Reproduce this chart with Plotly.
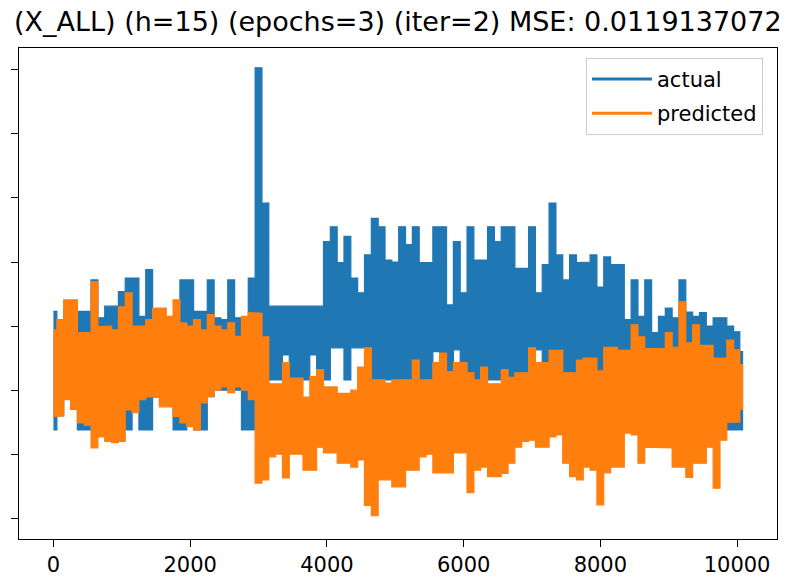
import plotly.graph_objects as go

# sample positions (time index) for the envelope readings
x_index = list(range(0, 10001, 100)) + [10080]

# envelope of the "actual" series (upper / lower extent in each 100-step slot)
actual_hi = [0.323, 0.300, 0.328, 0.323, 0.323, 0.323, 0.372, 0.313, 0.331, 0.331,
             0.354, 0.375, 0.375, 0.315, 0.388, 0.310, 0.310, 0.310, 0.310, 0.372,
             0.372, 0.323, 0.323, 0.372, 0.313, 0.310, 0.372, 0.313, 0.313, 0.375,
             0.703, 0.492, 0.331, 0.331, 0.331, 0.331, 0.331, 0.331, 0.331, 0.331,
             0.432, 0.455, 0.399, 0.440, 0.375, 0.352, 0.411, 0.468, 0.455, 0.403,
             0.400, 0.455, 0.427, 0.455, 0.399, 0.399, 0.455, 0.455, 0.333, 0.432,
             0.352, 0.455, 0.403, 0.403, 0.455, 0.432, 0.455, 0.455, 0.390, 0.390,
             0.455, 0.352, 0.396, 0.492, 0.411, 0.372, 0.411, 0.399, 0.400, 0.411,
             0.361, 0.408, 0.396, 0.396, 0.310, 0.372, 0.315, 0.372, 0.290, 0.315,
             0.328, 0.313, 0.372, 0.322, 0.315, 0.321, 0.300, 0.313, 0.313, 0.300,
             0.291, 0.260]
actual_lo = [0.138, 0.160, 0.190, 0.190, 0.138, 0.138, 0.160, 0.190, 0.190, 0.190,
             0.138, 0.138, 0.190, 0.138, 0.138, 0.189, 0.180, 0.175, 0.138, 0.138,
             0.160, 0.138, 0.138, 0.190, 0.200, 0.200, 0.200, 0.200, 0.138, 0.138,
             0.160, 0.138, 0.216, 0.216, 0.255, 0.216, 0.216, 0.216, 0.255, 0.216,
             0.216, 0.266, 0.266, 0.216, 0.266, 0.266, 0.266, 0.216, 0.216, 0.216,
             0.216, 0.216, 0.216, 0.216, 0.216, 0.216, 0.260, 0.216, 0.216, 0.263,
             0.216, 0.216, 0.216, 0.216, 0.216, 0.216, 0.216, 0.216, 0.216, 0.216,
             0.263, 0.263, 0.216, 0.216, 0.216, 0.216, 0.216, 0.216, 0.216, 0.216,
             0.216, 0.216, 0.216, 0.216, 0.138, 0.138, 0.138, 0.138, 0.138, 0.138,
             0.138, 0.138, 0.138, 0.138, 0.138, 0.138, 0.138, 0.138, 0.138, 0.138,
             0.138, 0.138]

# envelope of the "predicted" series
predicted_hi = [0.294, 0.310, 0.341, 0.341, 0.290, 0.290, 0.369, 0.299, 0.300, 0.294,
                0.330, 0.352, 0.300, 0.300, 0.310, 0.328, 0.328, 0.315, 0.341, 0.305,
                0.300, 0.310, 0.294, 0.318, 0.300, 0.294, 0.305, 0.284, 0.315, 0.321,
                0.320, 0.283, 0.210, 0.210, 0.243, 0.219, 0.219, 0.189, 0.221, 0.232,
                0.205, 0.205, 0.195, 0.195, 0.200, 0.236, 0.266, 0.216, 0.216, 0.211,
                0.216, 0.216, 0.216, 0.247, 0.216, 0.216, 0.243, 0.258, 0.229, 0.243,
                0.243, 0.227, 0.216, 0.236, 0.210, 0.210, 0.232, 0.220, 0.227, 0.227,
                0.266, 0.243, 0.243, 0.262, 0.262, 0.227, 0.227, 0.247, 0.250, 0.250,
                0.230, 0.267, 0.267, 0.262, 0.262, 0.302, 0.283, 0.265, 0.265, 0.265,
                0.290, 0.267, 0.338, 0.274, 0.302, 0.270, 0.270, 0.250, 0.250, 0.278,
                0.263, 0.240]
predicted_lo = [0.159, 0.160, 0.185, 0.170, 0.149, 0.145, 0.110, 0.127, 0.120, 0.118,
                0.120, 0.169, 0.165, 0.185, 0.190, 0.189, 0.174, 0.174, 0.159, 0.149,
                0.143, 0.138, 0.180, 0.190, 0.200, 0.205, 0.196, 0.205, 0.200, 0.185,
                0.055, 0.060, 0.096, 0.100, 0.063, 0.100, 0.100, 0.075, 0.075, 0.111,
                0.102, 0.102, 0.086, 0.086, 0.080, 0.091, 0.020, 0.004, 0.060, 0.060,
                0.049, 0.049, 0.075, 0.075, 0.096, 0.100, 0.071, 0.071, 0.071, 0.102,
                0.102, 0.040, 0.075, 0.080, 0.065, 0.065, 0.070, 0.086, 0.111, 0.120,
                0.122, 0.111, 0.111, 0.127, 0.130, 0.086, 0.065, 0.060, 0.080, 0.075,
                0.021, 0.071, 0.080, 0.080, 0.133, 0.130, 0.086, 0.111, 0.111, 0.110,
                0.110, 0.080, 0.080, 0.064, 0.086, 0.086, 0.111, 0.047, 0.122, 0.150,
                0.150, 0.170]

x_tick_vals = [0, 2000, 4000, 6000, 8000, 10000]
x_tick_text = ["0", "2000", "4000", "6000", "8000", "10000"]
y_tick_vals = [0.0, 0.1, 0.2, 0.3, 0.4, 0.5, 0.6, 0.7]

title_text = "(X_ALL) (h=15) (epochs=3) (iter=2) MSE: 0.0119137072"
series_names = ["actual", "predicted"]
colors = ["#1f77b4", "#ff7f0e"]


def band_polygon(xs, hi, lo):
    """Step-shaped band: each reading covers its slot around the sample position."""
    n = len(xs)
    edges = [xs[0]] + [(xs[i - 1] + xs[i]) / 2 for i in range(1, n)] + [xs[-1]]
    px, py = [], []
    for i in range(n):
        px += [edges[i], edges[i + 1]]
        py += [hi[i], hi[i]]
    for i in reversed(range(n)):
        px += [edges[i + 1], edges[i]]
        py += [lo[i], lo[i]]
    return px, py


fig = go.Figure()
for name, col, hi, lo in [(series_names[0], colors[0], actual_hi, actual_lo),
                          (series_names[1], colors[1], predicted_hi, predicted_lo)]:
    px, py = band_polygon(x_index, hi, lo)
    fig.add_trace(go.Scatter(x=px, y=py, mode="lines", fill="toself", fillcolor=col,
                             line=dict(color=col, width=1.2), showlegend=False,
                             hoverinfo="skip"))

# legend entries
for i, (name, col) in enumerate(zip(series_names, colors)):
    fig.add_trace(go.Scatter(x=[None], y=[None], mode="lines", name=name,
                             line=dict(color=col, width=3), legendgroup=name))

axis_common = dict(showgrid=False, zeroline=False, showline=True, mirror=True,
                   linecolor="black", linewidth=1.3, ticks="outside", ticklen=7,
                   tickwidth=1.3, tickcolor="black", automargin=False)

fig.update_layout(
    width=789, height=579,
    margin=dict(l=19, r=12, t=48, b=40),
    paper_bgcolor="white", plot_bgcolor="white",
    font=dict(family="DejaVu Sans", size=21, color="black"),
    xaxis=dict(range=[-504, 10584], tickmode="array", tickvals=x_tick_vals,
               ticktext=x_tick_text, ticklabelstandoff=0,
               tickfont=dict(size=21), **axis_common),
    yaxis=dict(range=[-0.0323, 0.734], tickmode="array", tickvals=y_tick_vals,
               showticklabels=False, **axis_common),
    legend=dict(x=0.9815, y=0.98, xanchor="right", yanchor="top",
                bgcolor="rgba(255,255,255,0.8)", bordercolor="#cccccc",
                borderwidth=1, font=dict(size=21, color="black"),
                traceorder="grouped", tracegroupgap=4, itemwidth=60),
    showlegend=True,
    annotations=[dict(text=title_text, xref="paper", yref="paper",
                      x=-0.0092, y=1.053, xanchor="left", yanchor="middle",
                      showarrow=False, font=dict(size=27, color="black"))],
)

fig.write_html("out.html")
